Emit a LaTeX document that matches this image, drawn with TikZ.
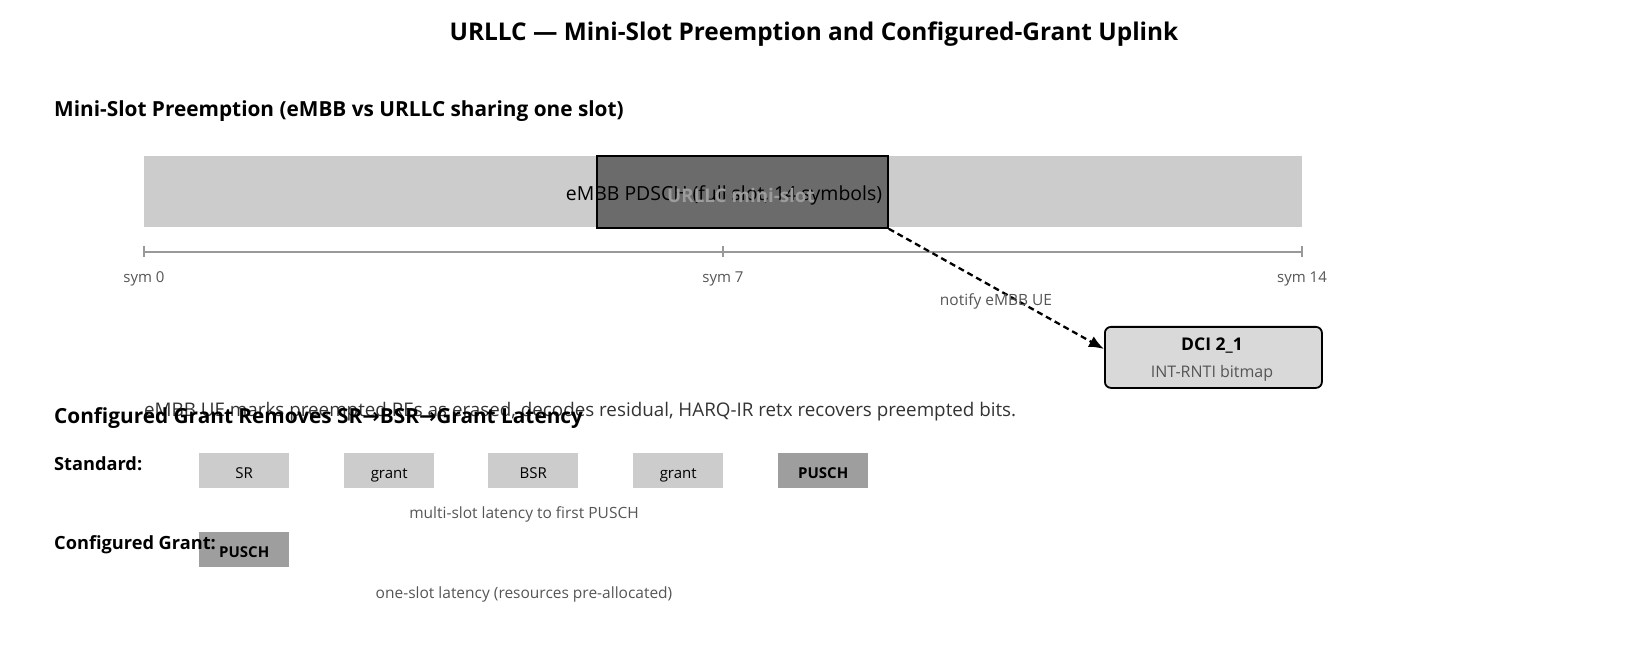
\documentclass[tikz,border=0pt]{standalone}
\usepackage{fontspec}
\setmainfont{Open Sans}
\newfontfamily\arrowfont{DejaVu Sans}
\usetikzlibrary{arrows.meta}
\definecolor{lightbar}{HTML}{CCCCCC}
\definecolor{darkslot}{HTML}{6B6B6B}
\definecolor{puschfill}{HTML}{9E9E9E}
\definecolor{dcifill}{HTML}{D9D9D9}
\definecolor{axisgray}{HTML}{999999}
\definecolor{labelgray}{HTML}{555555}
\definecolor{minitext}{HTML}{9C9C9C}
\definecolor{captiongray}{HTML}{333333}
\newcommand{\fs}[1]{\fontsize{#1}{#1}\selectfont}
\begin{document}
\begin{tikzpicture}[x=1pt,y=-1pt,
  titletext/.style={font=\fs{24.4}\bfseries, inner sep=0},
  headtext/.style={font=\fs{20.8}\bfseries, inner sep=0, anchor=west},
  rowlabel/.style={font=\fs{18.2}\bfseries, inner sep=0, anchor=west},
  symlabel/.style={font=\fs{15}, text=labelgray, inner sep=0},
  notetext/.style={font=\fs{15.5}, text=labelgray, inner sep=0},
  msgbox/.style={fill=lightbar, draw=none, minimum width=90, minimum height=35, inner sep=0, text height=18pt, text depth=1.6pt, anchor=north west, font=\fs{15}},
  puschbox/.style={msgbox, fill=puschfill, font=\fs{15}\bfseries},
  tickline/.style={draw=axisgray, line width=1.2pt},
]
\useasboundingbox (0,0) rectangle (1628,652);

% title
\node[titletext] (title) at (814,34) {URLLC — Mini-Slot Preemption and Configured-Grant Uplink};

% section 1
\node[headtext] (head1) at (54,111) {Mini-Slot Preemption (eMBB vs URLLC sharing one slot)};

\node[fill=lightbar, draw=none, minimum width=1158, minimum height=71, inner sep=0, anchor=north west] (embb) at (144,156) {};
\node[fill=darkslot, draw=black, line width=1.8pt, minimum width=291, minimum height=72, inner sep=0, anchor=north west] (urllc) at (596,155) {};
\node[font=\fs{19.4}, inner sep=0] (embbtext) at (724,195) {eMBB PDSCH (full slot, 14 symbols)};
\node[font=\fs{18.8}\bfseries, text=minitext, inner sep=0] (urllctext) at (741,195) {URLLC mini-slot};

% axis
\coordinate (ax0) at (144,252);
\coordinate (ax7) at (723,252);
\coordinate (ax14) at (1302,252);
\draw[tickline] (ax0) -- (ax14);
\draw[tickline] ([yshift=5.5pt]ax0) -- ([yshift=-5.5pt]ax0);
\draw[tickline] ([yshift=5.5pt]ax7) -- ([yshift=-5.5pt]ax7);
\draw[tickline] ([yshift=5.5pt]ax14) -- ([yshift=-5.5pt]ax14);
\node[symlabel] (s0) at (144,279) {sym 0};
\node[symlabel] (s7) at (723,279) {sym 7};
\node[symlabel] (s14) at (1302,279) {sym 14};

% DCI box
\node[fill=dcifill, draw=black, line width=1.8pt, rounded corners=6pt, minimum width=217, minimum height=61, inner sep=0, anchor=north west] (dci) at (1104,326) {};
\node[font=\fs{17.5}\bfseries, inner sep=0] (dcititle) at (1212,346) {DCI 2\_1};
\node[font=\fs{16}, text=labelgray, inner sep=0] (dcisub) at (1212,373) {INT-RNTI bitmap};
\coordinate (dciin) at (1104,349);
\draw[line width=2.3pt, dash pattern=on 6pt off 4pt, -{Latex[length=15pt,width=12pt]}] (urllc.south east) -- (dciin);
\node[notetext] (notify) at (996,301) {notify eMBB UE};

% caption
\node[font=\fs{18.8}, text=captiongray, inner sep=0, anchor=west] (caption) at (144,412) {eMBB UE marks preempted REs as erased, decodes residual, HARQ-IR retx recovers preempted bits.};

% section 2
\node[headtext] (head2) at (54,418) {Configured Grant Removes SR{\arrowfont →}BSR{\arrowfont →}Grant Latency};

\node[rowlabel] (std) at (54,464) {Standard:};
\node[msgbox] (sr) at (199,453) {SR};
\node[msgbox] (g1) at (344,453) {grant};
\node[msgbox] (bsr) at (488,453) {BSR};
\node[msgbox] (g2) at (633,453) {grant};
\node[puschbox] (p1) at (778,453) {PUSCH};
\node[notetext] (multi) at (524,514) {multi-slot latency to first PUSCH};

\node[puschbox] (p2) at (199,532) {PUSCH};
\node[rowlabel] (cg) at (54,545) {Configured Grant:};
\node[notetext] (one) at (524,594) {one-slot latency (resources pre-allocated)};
\end{tikzpicture}
\end{document}
